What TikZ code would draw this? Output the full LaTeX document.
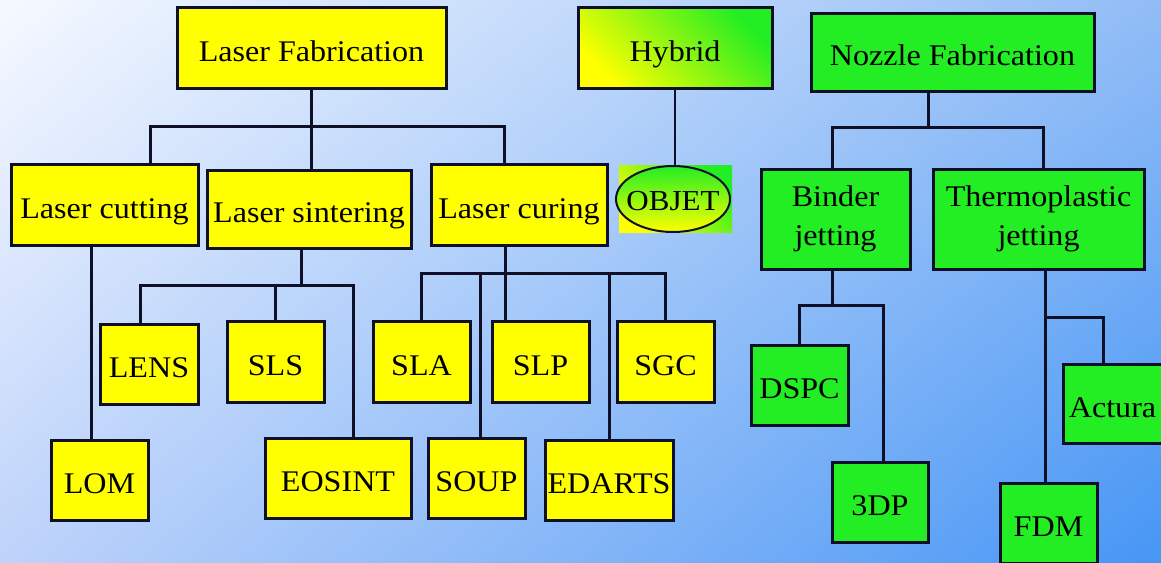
\documentclass[tikz,border=0pt]{standalone}
\usepackage{fontspec}
\setmainfont{Liberation Serif}[FakeStretch=1.07]
\usetikzlibrary{shapes.geometric,shadings,calc}
\definecolor{yl}{RGB}{255,255,0}
\definecolor{gn}{RGB}{35,238,35}
\definecolor{ln}{RGB}{15,15,40}
\definecolor{bgtl}{RGB}{246,249,255}
\definecolor{bgtr}{RGB}{145,188,246}
\definecolor{bgbl}{RGB}{190,211,250}
\definecolor{bgbr}{RGB}{70,150,245}
\tikzset{
    blk/.style={rectangle,draw=ln,line width=3pt,inner sep=0pt,align=center,font=\fontsize{30}{39}\selectfont,text height=27pt,text depth=0pt,fill=#1},
    arr/.style={line width=3pt,ln},
    tarr/.style={line width=1.5pt,ln},
}
\begin{document}
\begin{tikzpicture}[x=1pt,y=-1pt]
\useasboundingbox (0,0) rectangle (1161,562);
\clip (0,0) rectangle (1161,562);
\shade[upper left=bgtl,upper right=bgtr,lower left=bgbl,lower right=bgbr] (0,0) rectangle (1161,562);
\node[blk=yl,minimum width=269pt,minimum height=81pt] (lf) at (311.5,47.5) {Laser Fabrication};
\node[blk=yl,minimum width=194pt,minimum height=81pt,top color=gn,bottom color=yl,shading angle=-45] (hyb) at (675,47.5) {Hybrid};
\node[blk=gn,minimum width=283pt,minimum height=78pt] (nf) at (952.5,52) {Nozzle Fabrication};
\node[blk=yl,minimum width=187pt,minimum height=81pt] (lcut) at (104.5,204.5) {Laser cutting};
\node[blk=yl,minimum width=204pt,minimum height=78pt] (lsin) at (309,209) {Laser sintering};
\node[blk=yl,minimum width=176pt,minimum height=81pt] (lcur) at (519,204.5) {Laser curing};
\node[rectangle,inner sep=0pt,minimum width=113pt,minimum height=67pt,top color=gn,bottom color=yl,shading angle=-45] (objbg) at (675.5,198.5) {};
\node[ellipse,draw=ln,line width=2pt,inner sep=0pt,minimum width=114pt,minimum height=66pt,top color=gn,bottom color=yl,font=\fontsize{29}{35}\selectfont,text height=22pt,text depth=0pt] (objet) at (673,199) {\makebox[0pt]{OBJET}};
\node[blk=gn,minimum width=149pt,minimum height=100pt,text height=,text depth=] (bj) at (835.5,219) {Binder\\jetting};
\node[blk=gn,minimum width=211pt,minimum height=100pt,text height=,text depth=] (tj) at (1038.5,219) {Thermoplastic\\jetting};
\node[blk=yl,minimum width=98pt,minimum height=80pt] (lens) at (149,364) {LENS};
\node[blk=yl,minimum width=97pt,minimum height=81pt] (sls) at (275.5,361.5) {SLS};
\node[blk=yl,minimum width=97pt,minimum height=81pt] (sla) at (421.5,361.5) {SLA};
\node[blk=yl,minimum width=97pt,minimum height=81pt] (slp) at (540.5,361.5) {SLP};
\node[blk=yl,minimum width=97pt,minimum height=81pt] (sgc) at (665.5,361.5) {SGC};
\node[blk=yl,minimum width=97pt,minimum height=80pt] (lom) at (99.5,480) {LOM};
\node[blk=yl,minimum width=146pt,minimum height=80pt] (eos) at (338,478) {EOSINT};
\node[blk=yl,minimum width=97pt,minimum height=80pt] (soup) at (476.5,478) {SOUP};
\node[blk=yl,minimum width=128pt,minimum height=80pt] (edarts) at (609,480) {EDARTS};
\node[blk=gn,minimum width=97pt,minimum height=80pt] (dspc) at (799.5,385) {DSPC};
\node[blk=gn,minimum width=96pt,minimum height=80pt] (tdp) at (880,502) {3DP};
\node[blk=gn,minimum width=99pt,minimum height=79pt] (act) at (1112.5,403.5) {Actura};
\node[blk=gn,minimum width=97pt,minimum height=80pt] (fdm) at (1048.5,523) {FDM};
\coordinate (lfj) at (311.5,126);
\coordinate (lsj) at (301,285);
\coordinate (lcj) at (505,273);
\coordinate (nfj) at (928,127);
\coordinate (bjj) at (832,305);
\coordinate (tjj) at (1045,317);
\draw[arr] (lf.south) -- (lf.south |- lsin.north);
\draw[arr] ([xshift=45.5pt]lcut.north) |- (lfj) -| ([xshift=-15pt]lcur.north);
\draw[arr] ([xshift=-13.5pt]lcut.south) -- ([xshift=-8.5pt]lom.north);
\draw[arr] ([xshift=-8pt]lsin.south) -- (lsj);
\draw[arr] ([xshift=-9pt]lens.north) |- (lsj) -| ([xshift=15pt]eos.north);
\draw[arr] (sls.north) -- (sls.north |- lsj);
\draw[arr] ([xshift=-14pt]lcur.south) -- ([xshift=-35.5pt]slp.north);
\draw[arr] (sla.north) |- (lcj) -| (sgc.north);
\draw[arr] ($(soup.north)+(3.5,0)$) -- ($(soup.north |- lcj)+(3.5,0)$);
\draw[arr] (edarts.north) -- (edarts.north |- lcj);
\draw[tarr] (hyb.south) -- (hyb.south |- objet.north);
\draw[arr] ([xshift=-24.5pt]nf.south) -- (nfj);
\draw[arr] ([xshift=-3.5pt]bj.north) |- (nfj) -| ([xshift=4.5pt]tj.north);
\draw[arr] ([xshift=-3.5pt]bj.south) -- (bjj);
\draw[arr] (dspc.north) |- (bjj) -| ([xshift=3pt]tdp.north);
\draw[arr] ([xshift=6.5pt]tj.south) -- ([xshift=-3.5pt]fdm.north);
\draw[arr] (tjj) -| ([xshift=-9.5pt]act.north);
\end{tikzpicture}
\end{document}
